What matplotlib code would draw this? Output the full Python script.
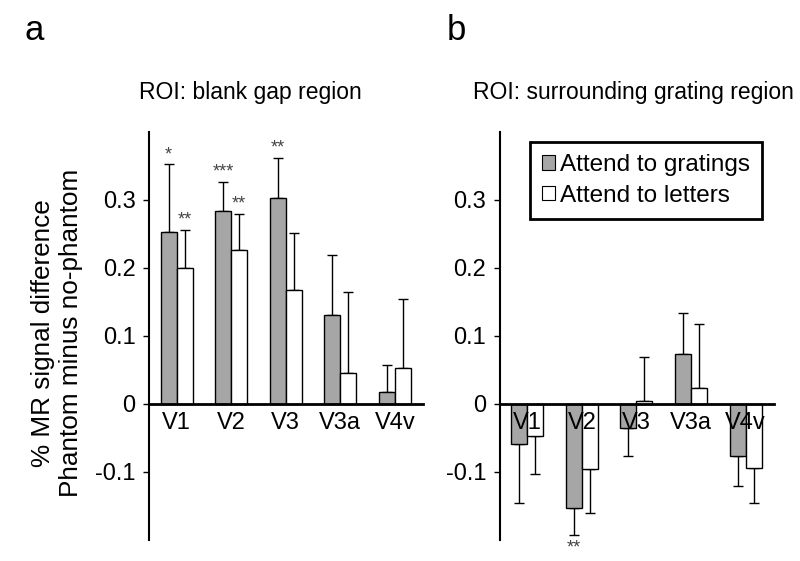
import matplotlib.pyplot as plt
from matplotlib.patches import Patch
import numpy as np

plt.rcParams['font.family'] = ['Liberation Sans', 'DejaVu Sans']

areas = ['V1', 'V2', 'V3', 'V3a', 'V4v']

# panel a: ROI blank gap region
gap_gratings = [0.252, 0.283, 0.303, 0.131, 0.018]
gap_gratings_err = [0.100, 0.043, 0.059, 0.088, 0.039]
gap_letters = [0.200, 0.226, 0.168, 0.046, 0.053]
gap_letters_err = [0.056, 0.053, 0.083, 0.119, 0.101]
gap_gratings_stars = ['*', '***', '**', '', '']
gap_letters_stars = ['**', '**', '', '', '']

# panel b: ROI surrounding grating region
sur_gratings = [-0.059, -0.153, -0.036, 0.073, -0.076]
sur_gratings_err = [0.087, 0.040, 0.041, 0.061, 0.045]
sur_letters = [-0.047, -0.095, 0.004, 0.023, -0.094]
sur_letters_err = [0.056, 0.066, 0.065, 0.094, 0.051]
sur_gratings_stars = ['', '**', '', '', '']
sur_letters_stars = ['', '', '', '', '']

GRAY = '#a6a6a6'
W = 0.293


def draw_panel(ax, g, g_err, l, l_err, g_stars, l_stars):
    x = np.arange(len(areas))
    for vals, errs, stars, off, color in [(g, g_err, g_stars, -W / 2, GRAY),
                                           (l, l_err, l_stars, W / 2, 'white')]:
        vals = np.array(vals)
        errs = np.array(errs)
        ax.bar(x + off, vals, W, color=color, edgecolor='black', linewidth=1.0, zorder=2)
        lower = np.where(vals < 0, errs, 0)
        upper = np.where(vals >= 0, errs, 0)
        ax.errorbar(x + off, vals, yerr=[lower, upper], fmt='none', ecolor='black',
                    elinewidth=1.0, capsize=3.5, capthick=1.0, zorder=1)
        for xi, v, e, s in zip(x + off, vals, errs, stars):
            if not s:
                continue
            if v >= 0:
                ax.text(xi, v + e + 0.002, s, ha='center', va='bottom', fontsize=13,
                        color='#444444')
            else:
                ax.text(xi, v - e - 0.006, s, ha='center', va='top', fontsize=13,
                        color='#444444')
    ax.set_axisbelow(False)
    ax.set_xlim(-0.5, 4.52)
    ax.set_ylim(-0.2, 0.4)
    ax.spines['top'].set_visible(False)
    ax.spines['right'].set_visible(False)
    ax.spines['bottom'].set_position(('data', 0))
    ax.spines['bottom'].set_linewidth(2)
    ax.spines['left'].set_linewidth(1.5)
    ax.set_xticks(x)
    ax.set_xticklabels(areas)
    ax.tick_params(axis='x', length=0, pad=6, labelsize=17)
    ax.set_yticks([-0.1, 0, 0.1, 0.2, 0.3])
    ax.set_yticklabels(['-0.1', '0', '0.1', '0.2', '0.3'])
    ax.tick_params(axis='y', length=4, width=1, pad=6, labelsize=17)


fig = plt.figure(figsize=(8, 5.61), dpi=100)
ax1 = fig.add_axes([0.1866, 0.0374, 0.3425, 0.7278])
ax2 = fig.add_axes([0.625, 0.0374, 0.3425, 0.7278])

draw_panel(ax1, gap_gratings, gap_gratings_err, gap_letters, gap_letters_err,
           gap_gratings_stars, gap_letters_stars)
draw_panel(ax2, sur_gratings, sur_gratings_err, sur_letters, sur_letters_err,
           sur_gratings_stars, sur_letters_stars)

fig.text(250 / 800, 1 - 92 / 561, 'ROI: blank gap region', ha='center', va='center', fontsize=16.5)
fig.text(633 / 800, 1 - 92 / 561, 'ROI: surrounding grating region', ha='center', va='center',
         fontsize=16.5)
fig.text(34 / 800, 1 - 30 / 561, 'a', ha='center', va='center', fontsize=25)
fig.text(456 / 800, 1 - 30 / 561, 'b', ha='center', va='center', fontsize=25)
fig.text(57 / 800, 1 - 333 / 561, '% MR signal difference\nPhantom minus no-phantom',
         rotation=90, ha='center', va='center', fontsize=18.8, multialignment='center',
         linespacing=1.2)

handles = [Patch(facecolor=GRAY, edgecolor='black', linewidth=0.8),
           Patch(facecolor='white', edgecolor='black', linewidth=0.8)]
leg = ax2.legend(handles, ['Attend to gratings', 'Attend to letters'], loc='upper left',
                 bbox_to_anchor=(0.109, 0.975), borderaxespad=0, fontsize=17.5,
                 handlelength=0.55, handleheight=0.55, handletextpad=0.2, fancybox=False,
                 framealpha=1, borderpad=0.5, labelspacing=0.35)
leg.get_frame().set_edgecolor('black')
leg.get_frame().set_linewidth(2)

fig.savefig('out.png', dpi=100)
